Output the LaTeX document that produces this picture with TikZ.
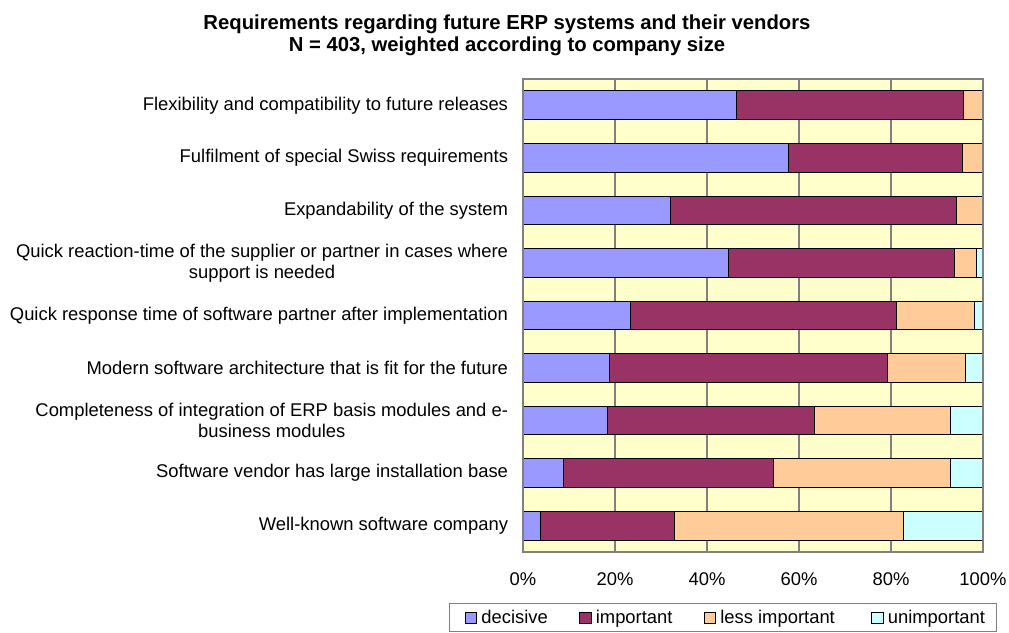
\documentclass[tikz,border=0pt]{standalone}
\usepackage{fontspec}
\setmainfont{Liberation Sans}
\usetikzlibrary{positioning}

\definecolor{decisive}{HTML}{9999FF}
\definecolor{important}{HTML}{993366}
\definecolor{lessimp}{HTML}{FFCC99}
\definecolor{unimp}{HTML}{CCFFFF}
\definecolor{plotbg}{HTML}{FFFFCC}
\definecolor{gridgray}{HTML}{808080}

\begin{document}
\begin{tikzpicture}
    [x=0.75pt, y=-0.75pt, outer sep=0pt,
    txt/.style={inner sep=0pt, font=\fontsize{13.8}{15.8}\selectfont},
    catlabel/.style={txt, anchor=east, align=center},
    ticklabel/.style={txt, text height=9.9pt, text depth=0pt},
    segment/.style={draw=black, line width=0.75pt},
    keybox/.style={draw=black, line width=0.6pt, minimum size=8.5pt,
      inner sep=0pt},
    keytext/.style={txt, text height=7.2pt, text depth=0pt,
      right=3.5pt of #1, yshift=-0.6pt}]

    \useasboundingbox (0,0) rectangle (1009,632);

    % title
    \node (title) [txt, align=center, font=\fontsize{15.2}{16.6}\selectfont\bfseries]
    at (507,35) {Requirements regarding future ERP systems and their vendors\\
      N = 403, weighted according to company size};

    % plot area and grid
    \fill [plotbg] (523,79) rectangle (983,552);
    \foreach \g in {20,40,60,80}
      \draw [gridgray, line width=0.9pt] (523+4.6*\g,79) -- (523+4.6*\g,552);

    % bars: label / decisive / + important / + less important
    \foreach \lbl/\dec/\imp/\les [count=\i from 0] in {
      {Flexibility and compatibility to future releases}/46.5/95.7/100,
      {Fulfilment of special Swiss requirements}/57.8/95.6/99.8,
      {Expandability of the system}/32.0/94.3/99.8,
      {Quick reaction-time of the supplier or partner in cases where\\support is needed}/44.7/93.7/98.6,
      {Quick response time of software partner after implementation}/23.3/81.2/98.1,
      {Modern software architecture that is fit for the future}/18.7/79.3/96.2,
      {Completeness of integration of ERP basis modules and e-\\business modules}/18.3/63.4/92.9,
      {Software vendor has large installation base}/8.8/54.4/93.0,
      {Well-known software company}/3.8/32.9/82.8} {
      \pgfmathsetmacro{\yc}{79+(\i+0.5)*52.556}
      \pgfmathsetmacro{\xa}{523+4.6*\dec}
      \pgfmathsetmacro{\xb}{523+4.6*\imp}
      \pgfmathsetmacro{\xc}{523+4.6*\les}
      \draw [segment, fill=decisive] (523,\yc-14.3) rectangle (\xa,\yc+14.3);
      \draw [segment, fill=important] (\xa,\yc-14.3) rectangle (\xb,\yc+14.3);
      \draw [segment, fill=lessimp] (\xb,\yc-14.3) rectangle (\xc,\yc+14.3);
      \draw [segment, fill=unimp] (\xc,\yc-14.3) rectangle (983,\yc+14.3);
      \node (cat-\i) [catlabel] at (508,\yc) {\lbl};
    }
    \draw [gridgray, line width=0.9pt] (523,79) rectangle (983,552);

    % axis ticks
    \foreach \t in {0,20,40,60,80,100}
      \node (tick-\t) [ticklabel] at (523+4.6*\t,579) {\t\%};

    % legend
    \node (legend) [draw=gridgray, line width=0.75pt, minimum width=410.25pt,
    minimum height=21pt, inner sep=0pt] at (722.5,617) {};
    \node (k-dec) [keybox, fill=decisive] at (471,618) {};
    \node (t-dec) [keytext=k-dec] {decisive};
    \node (k-imp) [keybox, fill=important] at (585.5,618) {};
    \node (t-imp) [keytext=k-imp] {important};
    \node (k-les) [keybox, fill=lessimp] at (710,618) {};
    \node (t-les) [keytext=k-les] {less important};
    \node (k-uni) [keybox, fill=unimp] at (877.5,618) {};
    \node (t-uni) [keytext=k-uni] {unimportant};
  \end{tikzpicture}
\end{document}
